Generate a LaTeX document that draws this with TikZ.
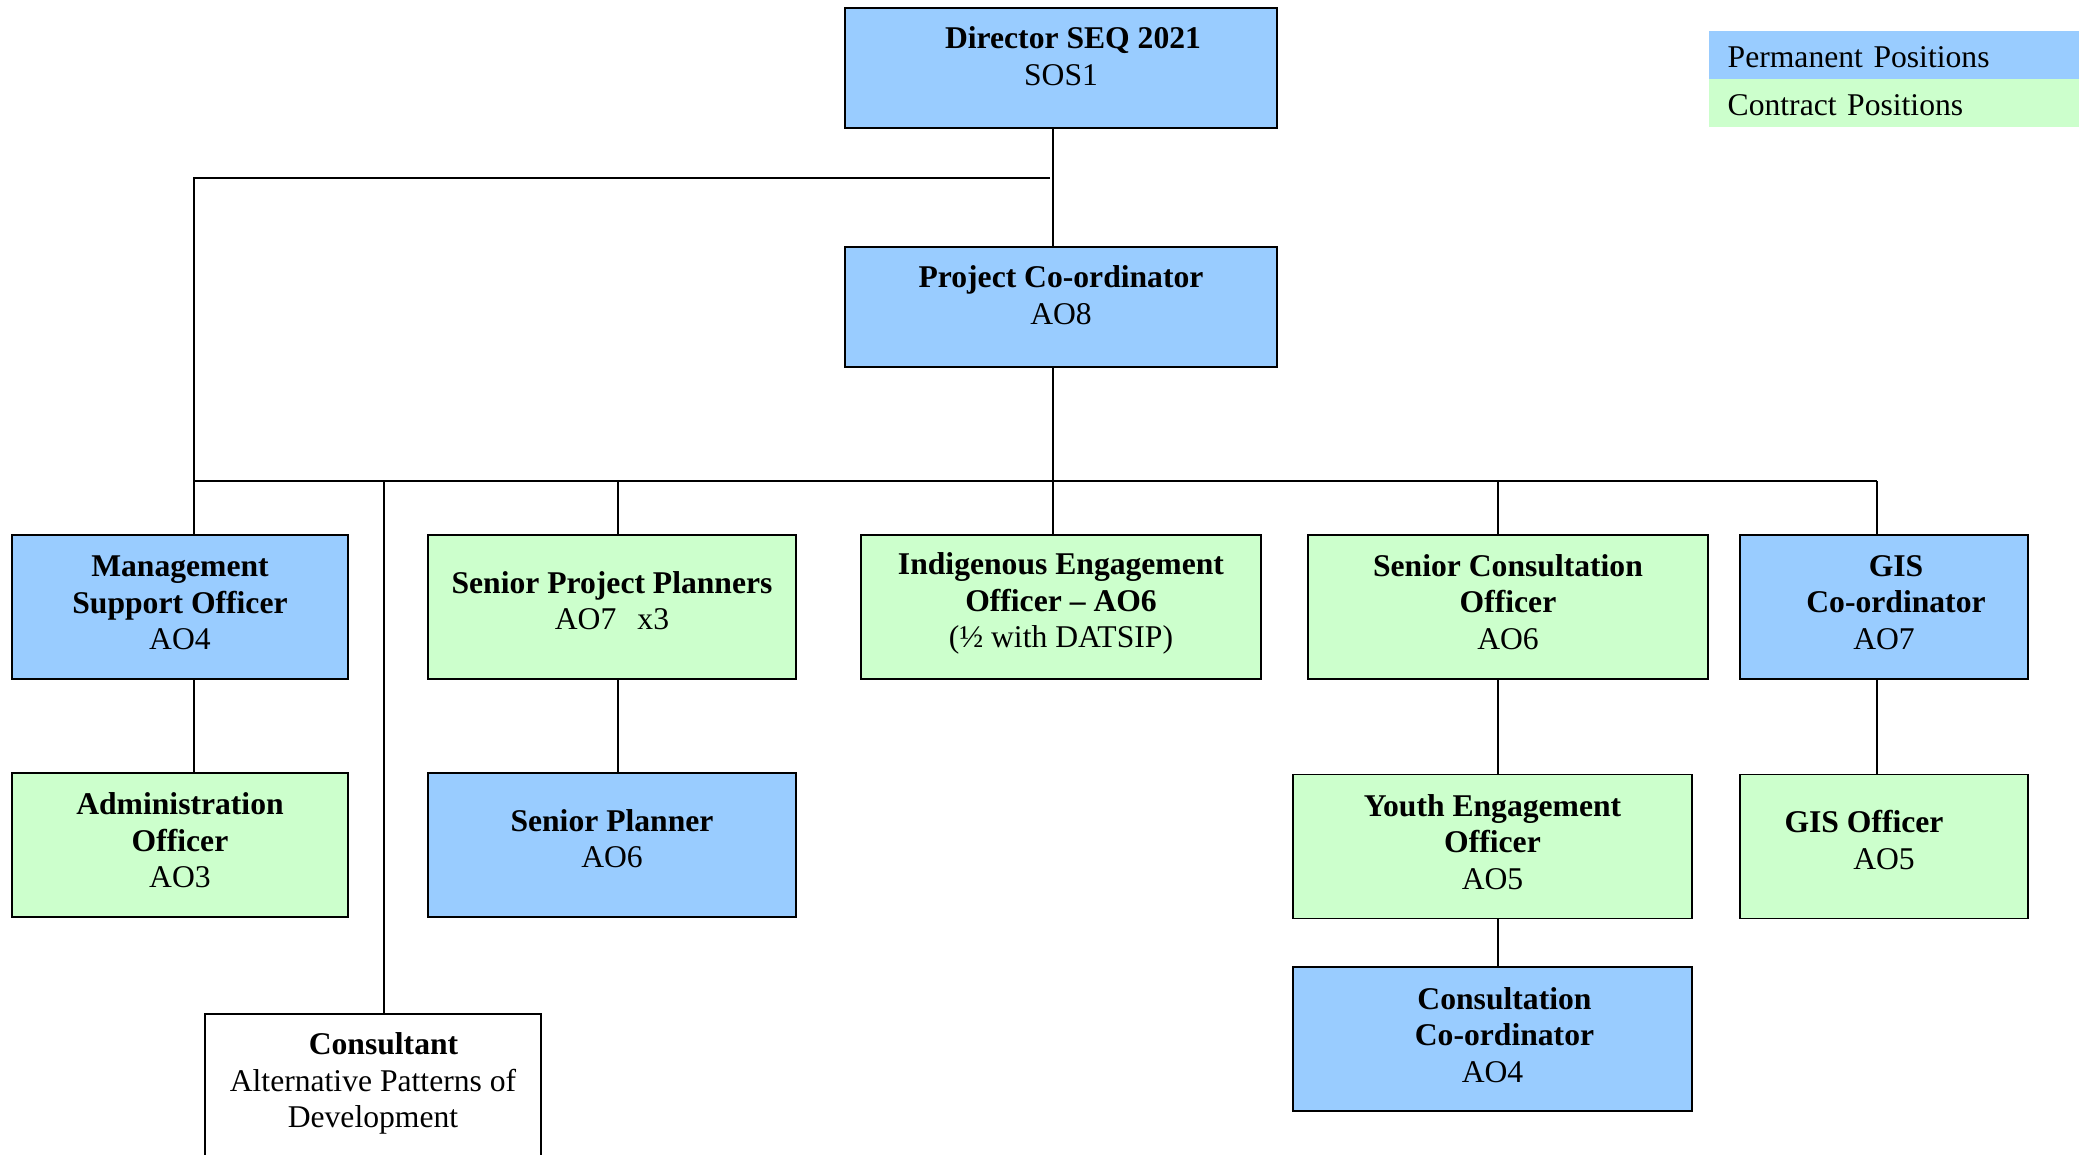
\documentclass[tikz,border=0pt]{standalone}
\usepackage{fontspec}
\setmainfont{Liberation Serif}
\definecolor{permblue}{HTML}{99CCFF}
\definecolor{contgreen}{HTML}{CCFFCC}
\tikzset{
  post/.style={draw=black, line width=0.5pt, align=center, inner sep=0pt,
    minimum height=1.44cm, font=\fontsize{9}{10.4}\selectfont},
  perm/.style={post, fill=permblue},
  cont/.style={post, fill=contgreen},
  keyrow/.style={inner xsep=0.19cm, inner ysep=0pt, minimum height=0.48cm,
    text height=7.4pt, text depth=0pt,
    text width=3.32cm, align=left, anchor=north west, font=\fontsize{9}{10.4}\selectfont},
  link/.style={line width=0.4pt}
}
\begin{document}
\begin{tikzpicture}
\useasboundingbox (0,0) rectangle (20.83,-11.55);
% legend
\node[keyrow, fill=permblue] (keyperm) at (17.08,-0.30) {Permanent Positions};
\node[keyrow, fill=contgreen] (keycont) at (17.08,-0.78) {Contract Positions};
% top of the chart
\node[perm, minimum width=4.32cm, minimum height=1.20cm] (dir) at (10.61,-0.68) {\hspace*{0.24cm}\textbf{Director SEQ 2021}\\SOS1\\[-3.6pt]};
\node[perm, minimum width=4.32cm, minimum height=1.20cm] (pc) at (10.61,-3.07) {\textbf{Project Co-ordinator}\\AO8\\[-3.6pt]};
% first row
\node[perm, minimum width=3.36cm] (mso) at (1.80,-6.07) {\textbf{Management}\\\textbf{Support Officer}\\AO4\\[-8.1pt]};
\node[cont, minimum width=3.68cm] (spp) at (6.12,-6.07) {\textbf{Senior Project Planners}\\AO7\hspace{6pt}x3\\[-6.6pt]};
\node[cont, minimum width=4.00cm] (ieo) at (10.61,-6.07) {\textbf{Indigenous Engagement}\\\textbf{Officer -- AO6}\\(½ with DATSIP)\\[-6.6pt]};
\node[cont, minimum width=4.00cm] (sco) at (15.08,-6.07) {\textbf{Senior Consultation}\\\textbf{Officer}\\AO6\\[-7.4pt]};
\node[perm, minimum width=2.88cm] (gisc) at (18.84,-6.07) {\hspace*{0.24cm}\textbf{GIS}\\\hspace*{0.24cm}\textbf{Co-ordinator}\\AO7\\[-7.8pt]};
% second row
\node[cont, minimum width=3.36cm] (adm) at (1.80,-8.45) {\textbf{Administration}\\\textbf{Officer}\\AO3\\[-7.8pt]};
\node[perm, minimum width=3.68cm] (spl) at (6.12,-8.45) {\textbf{Senior Planner}\\AO6\\[-6.6pt]};
\node[cont, minimum width=3.99cm] (yeo) at (14.925,-8.465) {\textbf{Youth Engagement}\\\textbf{Officer}\\AO5\\[-7.8pt]};
\node[cont, minimum width=2.88cm] (giso) at (18.84,-8.465) {\textbf{GIS Officer}\hspace*{0.40cm}\\AO5\\[-6.6pt]};
% bottom
\node[perm, minimum width=3.99cm] (cc) at (14.925,-10.39) {\hspace*{0.24cm}\textbf{Consultation}\\\hspace*{0.24cm}\textbf{Co-ordinator}\\AO4\\[-8.1pt]};
\node[post, fill=white, minimum width=3.36cm] (con) at (3.73,-10.86) {\hspace*{0.21cm}\textbf{Consultant}\\Alternative Patterns of\\Development\\[-7.2pt]};
% lines
\coordinate (trunk) at (10.53,0);
\coordinate (topL) at (1.94,-1.78);
\coordinate (topR) at (10.50,-1.78);
\coordinate (busL) at (1.94,-4.81);
\coordinate (busR) at (18.77,-4.81);
\draw[link] (dir.south -| trunk) -- (pc.north -| trunk);
\draw[link] (pc.south -| trunk) -- (busL -| trunk);
\draw[link] (topR) -- (topL) -- ([xshift=0.14cm]mso.north);
\draw[link] (busL) -- (busR);
\foreach \n/\dx in {con/0.11, spp/0.06, ieo/-0.08, sco/-0.10, gisc/-0.07}
  \draw[link] ([xshift=\dx cm]\n.north) -- ([xshift=\dx cm]\n.north |- busL);
\foreach \a/\b/\dx in {mso/adm/0.14, spp/spl/0.06, sco/yeo/-0.10, gisc/giso/-0.07}
  \draw[link] ([xshift=\dx cm]\a.south) -- ([xshift=\dx cm]\a.south |- \b.north);
\draw[link] ([xshift=0.055cm]yeo.south) -- ([xshift=0.055cm]yeo.south |- cc.north);
\end{tikzpicture}
\end{document}
